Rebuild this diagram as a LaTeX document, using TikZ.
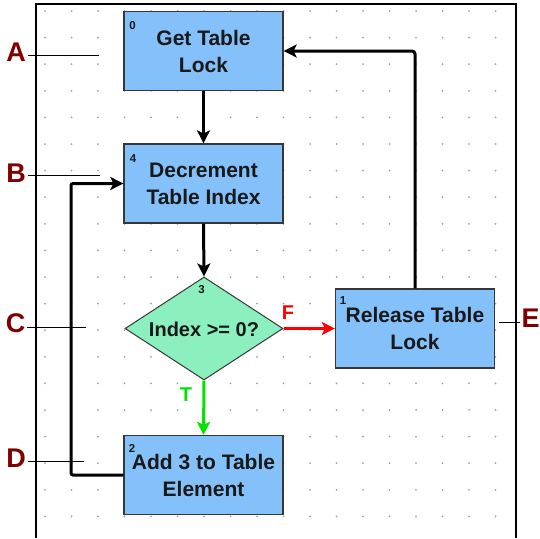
\documentclass[tikz,border=0pt]{standalone}
\usepackage{fontspec}
\setmainfont{Liberation Sans}
\usetikzlibrary{shapes.geometric,arrows.meta}
\definecolor{boxblue}{RGB}{132,192,250}
\definecolor{mint}{RGB}{140,240,190}
\definecolor{edgegray}{RGB}{55,55,55}
\definecolor{dotgray}{RGB}{160,160,160}
\definecolor{lblred}{RGB}{128,0,0}
\definecolor{tgreen}{RGB}{0,230,0}
\definecolor{txt}{RGB}{25,25,25}
\begin{document}
\begin{tikzpicture}[x=1pt,y=-1pt,
  procbox/.style={draw=edgegray,line width=1.3pt,fill=boxblue,minimum width=159pt,minimum height=79pt,inner sep=0pt,
    align=center,text=txt,font=\fontsize{21}{27}\selectfont\bfseries},
  decbox/.style={diamond,draw=edgegray,line width=1pt,fill=mint,minimum width=158pt,minimum height=103pt,inner sep=0pt},
  numlbl/.style={inner sep=0pt,text=txt,font=\fontsize{11.5}{12}\selectfont\bfseries},
  flow/.style={line width=3pt,-{Stealth[length=13pt,width=13pt,inset=3pt]}},
  calllbl/.style={inner sep=0pt,text=lblred,font=\fontsize{27}{30}\selectfont\bfseries},
  callline/.style={line width=1pt,black},
  branch/.style={inner sep=0pt,font=\fontsize{20}{22}\selectfont\bfseries}]
\useasboundingbox (0,0) rectangle (540,538);
\fill[white] (0,0) rectangle (540,538);
% dot grid
\foreach \i in {0,...,17}{
  \foreach \j in {0,...,19}{
    \fill[dotgray] (45+26.5*\i,11+26.6*\j) circle (1pt);
  }
}
% frame
\draw[line width=1.3pt] (36,538) -- (36,4) -- (516,4) -- (516,538);
% nodes
\node[procbox] (b0) at (203.5,51) {Get Table\\Lock};
\node[procbox] (b4) at (203.5,183.5) {Decrement\\Table Index};
\node[decbox] (d3) at (204,328.5) {};
\node[inner sep=0pt,text=txt,font=\fontsize{20}{24}\selectfont\bfseries] (d3t) at (204,329) {Index >= 0?};
\node[procbox] (b1) at (415,328.5) {Release Table\\Lock};
\node[procbox] (b2) at (203.5,475) {Add 3 to Table\\Element};
% step numbers
\node[numlbl] (n0) at (132.5,25.5) {0};
\node[numlbl] (n4) at (133,158.5) {4};
\node[numlbl] (n3) at (201.5,290) {3};
\node[numlbl] (n1) at (343,301) {1};
\node[numlbl] (n2) at (132,448.5) {2};
% connectors
\draw[flow] (b0.south) -- (b4.north);
\draw[flow] (b4.south) -- (d3.north);
\draw[flow,red] (d3.east) -- (b1.west);
\draw[flow,tgreen] (d3.south) -- (b2.north);
\draw[flow,rounded corners=3pt] (b1.north) |- (b0.east);
\coordinate (loopc) at (71,475);
\draw[flow,rounded corners=2pt] (b2.west) -- (loopc) |- (b4.west);
\node[branch,text=red] (fl) at (288,313) {F};
\node[branch,text=tgreen] (tl) at (186,395) {T};
% callouts
\node[calllbl] (lA) at (16,52) {A};
\node[calllbl] (lB) at (16,173) {B};
\node[calllbl] (lC) at (15.5,323) {C};
\node[calllbl] (lD) at (16,458) {D};
\node[calllbl] (lE) at (530.5,318.5) {E};
\coordinate (eA) at (99,55);
\coordinate (eB) at (100,175);
\coordinate (eC) at (86,327);
\coordinate (eD) at (84,461);
\coordinate (eE) at (499,322);
\draw[callline] ([xshift=2pt]lA.east |- eA) -- (eA);
\draw[callline] ([xshift=2pt]lB.east |- eB) -- (eB);
\draw[callline] ([xshift=2pt]lC.east |- eC) -- (eC);
\draw[callline] ([xshift=2pt]lD.east |- eD) -- (eD);
\draw[callline] (eE) -- ([xshift=-1pt]lE.west |- eE);
\end{tikzpicture}
\end{document}
